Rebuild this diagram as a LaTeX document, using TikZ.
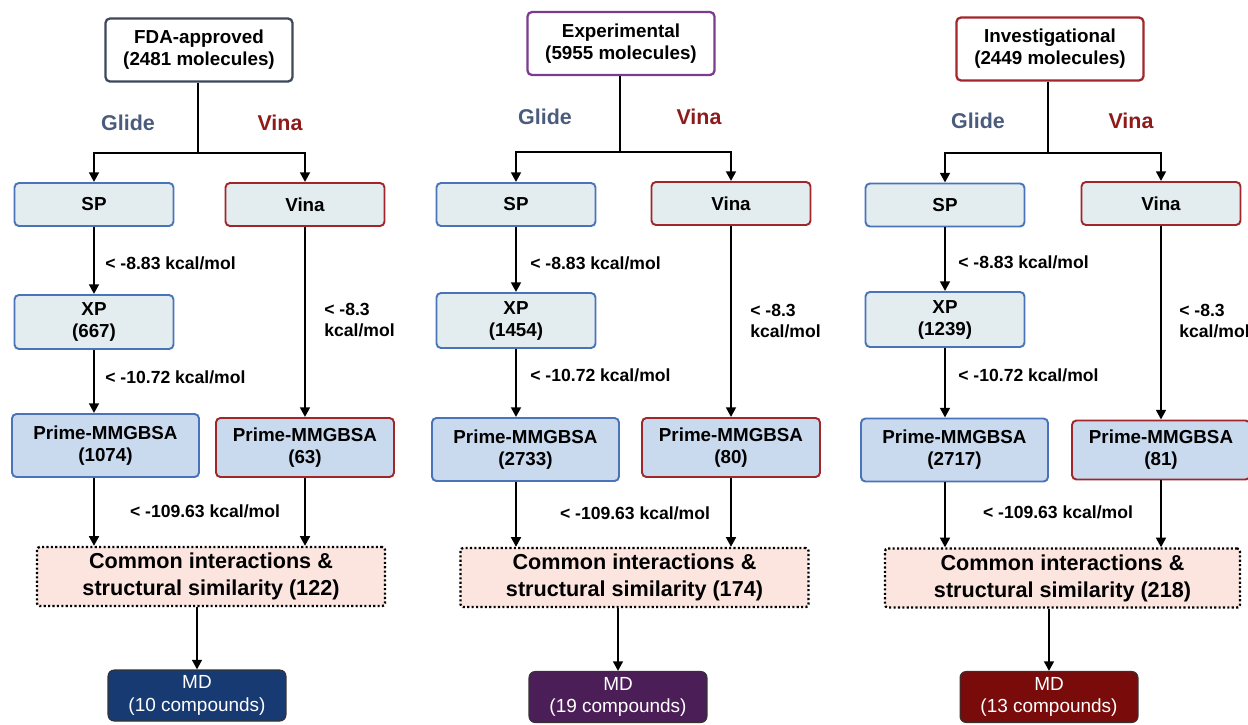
\documentclass[tikz,border=0pt]{standalone}
\usepackage{fontspec}
\setmainfont{Liberation Sans}
\usetikzlibrary{arrows.meta}
\definecolor{glideblue}{HTML}{4A5B7C}
\definecolor{vinared}{HTML}{8E1A1A}
\definecolor{edgeblue}{HTML}{4A74B9}
\definecolor{edgered}{HTML}{A0262A}
\definecolor{dockfill}{HTML}{E3EDEF}
\definecolor{primefill}{HTML}{C9D9EE}
\definecolor{commonfill}{HTML}{FCE4DF}
\definecolor{fdaedge}{HTML}{3D4858}
\definecolor{expedge}{HTML}{7B3B8F}
\definecolor{invedge}{HTML}{A3262A}
\definecolor{mdnavy}{HTML}{173A72}
\definecolor{mdpurple}{HTML}{4C1E57}
\definecolor{mdred}{HTML}{7A0B0B}

\tikzset{
  boxtext/.style={font=\fontsize{10.7}{12.5}\selectfont\bfseries},
  sourcebox/.style={boxtext, draw, fill=white, line width=1.3pt, rounded corners=2.5pt,
    minimum width=3.74cm, minimum height=1.26cm, inner sep=0pt, align=center},
  glidebox/.style={boxtext, draw=edgeblue, fill=dockfill, line width=1.1pt, rounded corners=2.5pt,
    minimum width=3.18cm, minimum height=0.86cm, inner sep=0pt, align=center},
  vinabox/.style={glidebox, draw=edgered},
  primebox/.style={glidebox, fill=primefill, minimum width=3.74cm, minimum height=1.26cm},
  primevbox/.style={primebox, draw=edgered, minimum width=3.56cm, minimum height=1.18cm},
  commonbox/.style={draw=black, fill=commonfill, line width=1.3pt, dash pattern=on 1.2pt off 1.3pt,
    rounded corners=1.5pt, minimum width=6.96cm, minimum height=1.18cm, inner sep=0pt, align=center,
    font=\fontsize{12.3}{15.3}\selectfont\bfseries},
  mdbox/.style={draw=black!80, line width=0.6pt, rounded corners=3.5pt, text=white,
    minimum width=3.56cm, minimum height=1.02cm, inner sep=0pt, align=center,
    font=\fontsize{10.8}{13}\selectfont},
  toolname/.style={font=\fontsize{12.2}{14}\selectfont\bfseries},
  cutoff/.style={font=\fontsize{10}{11.5}\selectfont\bfseries, inner sep=0pt, align=left},
  trunk/.style={line width=1.5pt},
  flow/.style={line width=1.5pt, -{Triangle[length=5.5pt,width=5.5pt]}}
}

\begin{document}
\begin{tikzpicture}[x=0.02cm, y=-0.02cm]
  \useasboundingbox (0,0) rectangle (1248,724);
  \clip (0,0) rectangle (1248,724);

  %%%%% FDA-approved %%%%%
  \node[sourcebox, draw=fdaedge] (fda) at (199,50) {FDA-approved\\(2481 molecules)};
  \node[toolname, text=glideblue] (glideA) at (128,123) {Glide};
  \node[toolname, text=vinared] (vinalblA) at (280,123) {Vina};
  \coordinate (splitA) at (198,153);
  \node[glidebox] (spA) at (94,204.5) {SP};
  \node[vinabox] (vinaA) at (305,204.5) {Vina};
  \node[glidebox, minimum height=1.08cm] (xpA) at (94,322) {XP\\(667)};
  \node[primebox] (primeA) at (105.5,445.5) {Prime-MMGBSA\\(1074)};
  \node[primevbox] (primevA) at (305,447.5) {Prime-MMGBSA\\(63)};
  \node[commonbox] (commonA) at (211,576.5) {Common interactions \&\\structural similarity (122)};
  \node[mdbox, fill=mdnavy] (mdA) at (197,695.5) {MD\\(10 compounds)};

  \node[cutoff, anchor=west] (spcutA) at (105,263) {< -8.83 kcal/mol};
  \node[cutoff, anchor=west] (xpcutA) at (105,377) {< -10.72 kcal/mol};
  \node[cutoff, anchor=west] (vinacutA) at (324,320) {< -8.3\\kcal/mol};
  \node[cutoff] (primecutA) at (205,511) {< -109.63 kcal/mol};

  \draw[trunk] (fda.south -| splitA) -- (splitA);
  \draw[flow] (splitA) -| (spA.north);
  \draw[flow] (splitA) -| (vinaA.north);
  \draw[flow] (spA.south) -- (xpA.north);
  \draw[flow] (xpA.south) -- (xpA.south |- primeA.north);
  \draw[flow] (vinaA.south) -- (primevA.north);
  \draw[flow] (primeA.south -| xpA.south) -- (xpA.south |- commonA.north);
  \draw[flow] (primevA.south) -- (primevA.south |- commonA.north);
  \draw[flow] (mdA.north |- commonA.south) -- (mdA.north);

  %%%%% Experimental %%%%%
  \node[sourcebox, draw=expedge] (exp) at (621,43.5) {Experimental\\(5955 molecules)};
  \node[toolname, text=glideblue] (glideB) at (545,117) {Glide};
  \node[toolname, text=vinared] (vinalblB) at (699,117) {Vina};
  \coordinate (splitB) at (620,152);
  \node[glidebox] (spB) at (516,204.5) {SP};
  \node[vinabox] (vinaB) at (731,203.5) {Vina};
  \node[glidebox, minimum height=1.1cm] (xpB) at (516,320.5) {XP\\(1454)};
  \node[primebox] (primeB) at (525.5,449.5) {Prime-MMGBSA\\(2733)};
  \node[primevbox] (primevB) at (731,447.5) {Prime-MMGBSA\\(80)};
  \node[commonbox] (commonB) at (634.5,577.5) {Common interactions \&\\structural similarity (174)};
  \node[mdbox, fill=mdpurple] (mdB) at (618,697) {MD\\(19 compounds)};

  \node[cutoff, anchor=west] (spcutB) at (530,263) {< -8.83 kcal/mol};
  \node[cutoff, anchor=west] (xpcutB) at (530,375) {< -10.72 kcal/mol};
  \node[cutoff, anchor=west] (vinacutB) at (750,321) {< -8.3\\kcal/mol};
  \node[cutoff] (primecutB) at (635,513) {< -109.63 kcal/mol};

  \draw[trunk] (exp.south -| splitB) -- (splitB);
  \draw[flow] (splitB) -| (spB.north);
  \draw[flow] (splitB) -| (vinaB.north);
  \draw[flow] (spB.south) -- (xpB.north);
  \draw[flow] (xpB.south) -- (xpB.south |- primeB.north);
  \draw[flow] (vinaB.south) -- (primevB.north);
  \draw[flow] (primeB.south -| xpB.south) -- (xpB.south |- commonB.north);
  \draw[flow] (primevB.south) -- (primevB.south |- commonB.north);
  \draw[flow] (mdB.north |- commonB.south) -- (mdB.north);

  %%%%% Investigational %%%%%
  \node[sourcebox, draw=invedge] (inv) at (1050,49) {Investigational\\(2449 molecules)};
  \node[toolname, text=glideblue] (glideC) at (978,121) {Glide};
  \node[toolname, text=vinared] (vinalblC) at (1131,121) {Vina};
  \coordinate (splitC) at (1048,153);
  \node[glidebox] (spC) at (945,205) {SP};
  \node[vinabox] (vinaC) at (1161,203.5) {Vina};
  \node[glidebox, minimum height=1.1cm] (xpC) at (945,319.5) {XP\\(1239)};
  \node[primebox] (primeC) at (954.5,450) {Prime-MMGBSA\\(2717)};
  \node[primevbox] (primevC) at (1161,450) {Prime-MMGBSA\\(81)};
  \node[commonbox, minimum width=7.1cm] (commonC) at (1062.5,578) {Common interactions \&\\structural similarity (218)};
  \node[mdbox, fill=mdred] (mdC) at (1049,697) {MD\\(13 compounds)};

  \node[cutoff, anchor=west] (spcutC) at (958,262) {< -8.83 kcal/mol};
  \node[cutoff, anchor=west] (xpcutC) at (958,375) {< -10.72 kcal/mol};
  \node[cutoff, anchor=west] (vinacutC) at (1179,321) {< -8.3\\kcal/mol};
  \node[cutoff] (primecutC) at (1058,512) {< -109.63 kcal/mol};

  \draw[trunk] (inv.south -| splitC) -- (splitC);
  \draw[flow] (splitC) -| (spC.north);
  \draw[flow] (splitC) -| (vinaC.north);
  \draw[flow] (spC.south) -- (xpC.north);
  \draw[flow] (xpC.south) -- (xpC.south |- primeC.north);
  \draw[flow] (vinaC.south) -- (primevC.north);
  \draw[flow] (primeC.south -| xpC.south) -- (xpC.south |- commonC.north);
  \draw[flow] (primevC.south) -- (primevC.south |- commonC.north);
  \draw[flow] (mdC.north |- commonC.south) -- (mdC.north);
\end{tikzpicture}
\end{document}
